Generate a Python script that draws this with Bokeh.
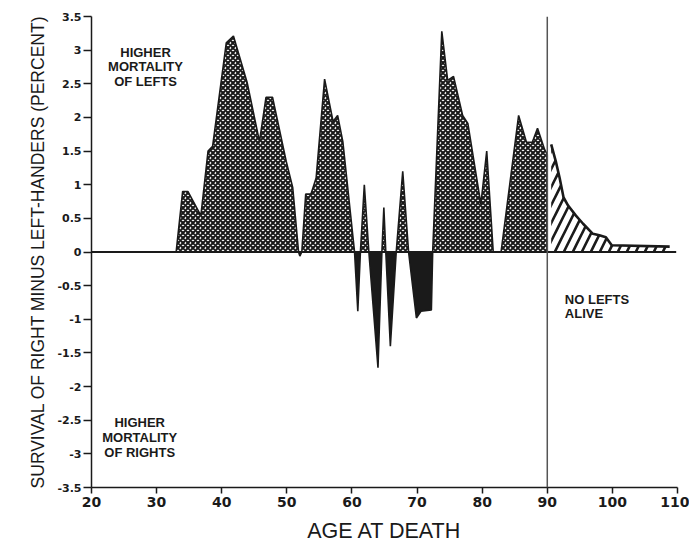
import numpy as np
from bokeh.plotting import figure
from bokeh.models import Range1d, FixedTicker, Span
from bokeh.core.properties import value
from bokeh.embed import file_html
from bokeh.resources import INLINE

# ---------------- data ----------------
ages = [20, 33.0, 34.0, 34.8, 36.8, 37.9, 38.6, 40.7, 41.8, 43.9, 45.8, 46.8, 47.8,
        49.9, 50.9, 51.8, 52.0, 52.3, 52.9, 53.7, 54.5, 55.8, 57.1, 57.8, 58.6,
        60.4, 60.9, 61.3, 61.9, 62.6, 64.0, 64.6, 64.9, 65.2, 65.9, 66.8, 67.8,
        68.7, 69.9, 70.6, 72.2, 72.4, 73.8, 74.7, 75.6, 77.0, 77.8, 79.8, 80.7,
        81.7, 82.9, 85.6, 86.8, 87.7, 88.5, 89.6, 90.0, 90.0]
diff = [0, 0, 0.90, 0.90, 0.54, 1.50, 1.57, 3.11, 3.21, 2.52, 1.64, 2.30, 2.30,
        1.35, 0.96, 0, -0.06, 0, 0.86, 0.86, 1.10, 2.57, 1.94, 2.03, 1.64,
        0, -0.88, 0, 1.00, 0, -1.72, 0, 0.66, 0, -1.40, 0, 1.20,
        0, -0.98, -0.88, -0.86, 0, 3.28, 2.55, 2.61, 2.03, 1.91, 0.71, 1.50,
        0, 0, 2.03, 1.63, 1.63, 1.84, 1.52, 1.45, 0]

# survivors after the last left-hander has died
tail_ages = [90.6, 90.6, 91.3, 91.9, 92.5, 93.2, 94.4, 95.5, 97.0, 98.0, 99.0, 99.9, 108.8, 108.8]
tail_vals = [0, 1.60, 1.35, 1.10, 0.81, 0.69, 0.54, 0.42, 0.27, 0.25, 0.22, 0.10, 0.08, 0]

last_left_age = 90
baseline_end = 109.8

x_ticks = [20, 30, 40, 50, 60, 70, 80, 90, 100, 110]
y_ticks = [-3.5, -3, -2.5, -2, -1.5, -1, -0.5, 0, 0.5, 1, 1.5, 2, 2.5, 3, 3.5]
y_tick_labels = ["-3.5", "-3", "-2.5", "-2", "-1.5", "-1", "-0.5", "0",
                 "0.5", "1", "1.5", "2", "2.5", "3", "3.5"]

note_left_x = [28.3, 28.3, 28.3]
note_left_y = [2.97, 2.75, 2.53]
note_left_text = ["HIGHER", "MORTALITY", "OF LEFTS"]

note_right_x = [27.4, 27.4, 27.4]
note_right_y = [-2.54, -2.76, -2.98]
note_right_text = ["HIGHER", "MORTALITY", "OF RIGHTS"]

note_alive_x = [92.7, 92.7]
note_alive_y = [-0.70, -0.92]
note_alive_text = ["NO LEFTS", "ALIVE"]

x_title = "AGE AT DEATH"
y_title = "SURVIVAL OF RIGHT MINUS LEFT-HANDERS (PERCENT)"

# ---------------- figure ----------------
INK = "#1a1a1a"
p = figure(width=689, height=545, x_range=Range1d(20, 110), y_range=Range1d(-3.5, 3.5),
           min_border_left=91, min_border_right=12, min_border_top=16, min_border_bottom=53,
           output_backend="svg", toolbar_location=None)
p.outline_line_color = None
p.xgrid.visible = False
p.ygrid.visible = False
p.background_fill_color = "white"
p.border_fill_color = "white"

pos = np.maximum(np.array(diff), 0)
neg = np.minimum(np.array(diff), 0)

p.varea(x=ages, y1=0, y2=pos, fill_color="white", hatch_pattern="x",
        hatch_color=INK, hatch_scale=5, hatch_weight=2)
p.varea(x=ages, y1=0, y2=neg, fill_color=INK)
p.line(ages, diff, line_color=INK, line_width=1.6)

p.patch(tail_ages, tail_vals, fill_color="white", line_color=None,
        hatch_pattern="/", hatch_color=INK, hatch_scale=18, hatch_weight=2.6)
p.line(tail_ages[1:-1], tail_vals[1:-1], line_color=INK, line_width=2.6)

p.line([20, baseline_end], [0, 0], line_color=INK, line_width=2)

p.add_layout(Span(location=last_left_age, dimension="height", line_color="#555555", line_width=1.5))

for xs, ys, ts in [(note_left_x, note_left_y, note_left_text),
                   (note_right_x, note_right_y, note_right_text)]:
    p.text(x=xs, y=ys, text=ts, text_font=value("Liberation Sans"), text_font_style="bold",
           text_font_size="13px", text_align="center", text_baseline="middle", text_color=INK)
p.text(x=note_alive_x, y=note_alive_y, text=note_alive_text, text_font=value("Liberation Sans"),
       text_font_style="bold", text_font_size="13px", text_align="left", text_baseline="middle",
       text_color=INK)

# axes
p.xaxis.ticker = FixedTicker(ticks=x_ticks)
p.yaxis.ticker = FixedTicker(ticks=y_ticks)
p.yaxis.major_label_overrides = {t: s for t, s in zip(y_ticks, y_tick_labels)}
for ax in (p.xaxis[0], p.yaxis[0]):
    ax.axis_line_color = INK
    ax.axis_line_width = 1.5
    ax.major_tick_line_color = INK
    ax.major_tick_line_width = 1.5
    ax.major_tick_in = 0
    ax.minor_tick_line_color = None
    ax.major_label_text_color = INK
    ax.major_label_text_font = "DejaVu Sans"
    ax.major_label_text_font_style = "bold"
p.xaxis.major_tick_out = 6
p.xaxis.major_label_text_font_size = "14px"
p.xaxis.major_label_standoff = 3
p.xaxis.axis_label = x_title
p.xaxis.axis_label_text_font = "Liberation Sans"
p.xaxis.axis_label_text_font_style = "normal"
p.xaxis.axis_label_text_font_size = "21.5px"
p.xaxis.axis_label_text_color = INK
p.xaxis.axis_label_standoff = 9
p.yaxis.major_tick_out = 8
p.yaxis.major_label_text_font_size = "11px"
p.yaxis.major_label_standoff = 2
p.yaxis.axis_label = y_title
p.yaxis.axis_label_text_font = "Liberation Sans"
p.yaxis.axis_label_text_font_style = "normal"
p.yaxis.axis_label_text_font_size = "17.5px"
p.yaxis.axis_label_text_color = INK
p.yaxis.axis_label_standoff = 6

open("out.html", "w").write(file_html(p, INLINE))
